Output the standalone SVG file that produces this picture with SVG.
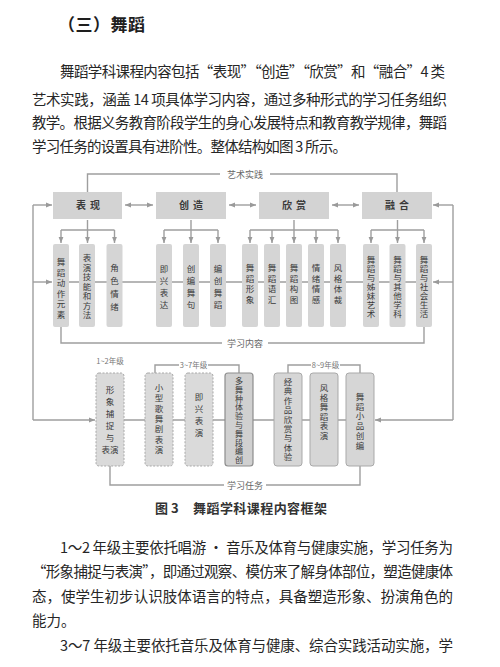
<svg xmlns="http://www.w3.org/2000/svg" width="500" height="667" viewBox="0 0 500 667">
<defs>
<marker id="ah" viewBox="0 0 10 10" refX="10" refY="5" markerWidth="6" markerHeight="6" markerUnits="userSpaceOnUse" orient="auto-start-reverse"><path d="M0,1 L10,5 L0,9 z" fill="#9a9a9a"/></marker>
<style>
.body{font-family:"Noto Sans CJK SC","Noto Sans CJK JP",sans-serif;font-size:14.5px;fill:#262626}
.title{font-family:"Noto Sans CJK SC",sans-serif;font-size:17px;font-weight:bold;fill:#1e1e1e}
.cap{font-family:"Noto Sans CJK SC",sans-serif;font-size:13px;font-weight:bold;fill:#333}
.ln{fill:none;stroke:#9e9e9e;stroke-width:1.4}
.ar{fill:none;stroke:#9e9e9e;stroke-width:1.4;marker-end:url(#ah)}
.da{fill:none;stroke:#9e9e9e;stroke-width:1.4;marker-start:url(#ah);marker-end:url(#ah)}
.big{fill:#d3d3d3}
.sm{fill:#d5d5d5}
.dsh{fill:#dadada;stroke:#a8a8a8;stroke-width:1;stroke-dasharray:2 1.5}
.sol{fill:#d6d6d6;stroke:#a9a9a9;stroke-width:1}
.sol2{fill:#d0d0d0;stroke:#8e8e8e;stroke-width:1.2}
.bl{font-family:"Noto Sans CJK SC",sans-serif;font-size:10px;font-weight:bold;fill:#3a3a3a;text-anchor:middle}
.vt{font-family:"Noto Sans CJK SC",sans-serif;font-size:8.5px;fill:#3a3a3a;text-anchor:middle}
.vs{font-family:"Noto Sans CJK SC",sans-serif;font-size:8px;fill:#3a3a3a;text-anchor:middle}
.lb{font-family:"Noto Sans CJK SC",sans-serif;font-size:9px;fill:#666;text-anchor:middle}
.gl{font-family:"Noto Sans CJK SC",sans-serif;font-size:7.5px;fill:#777;text-anchor:middle}
</style>
</defs>
<rect width="500" height="667" fill="#ffffff"/>

<text class="title" x="58" y="31" textLength="87" lengthAdjust="spacing">（三）舞蹈</text>
<text class="body" x="60" y="77" textLength="385" lengthAdjust="spacing">舞蹈学科课程内容包括“表现”“创造”“欣赏”和“融合”4 类</text>
<text class="body" x="32" y="105" textLength="415" lengthAdjust="spacing">艺术实践，涵盖 14 项具体学习内容，通过多种形式的学习任务组织</text>
<text class="body" x="32" y="128" textLength="415" lengthAdjust="spacing">教学。根据义务教育阶段学生的身心发展特点和教育教学规律，舞蹈</text>
<text class="body" x="32" y="152" textLength="315" lengthAdjust="spacing">学习任务的设置具有进阶性。整体结构如图 3 所示。</text>

<g id="connectors">
<path class="ln" d="M87.5,192 V174 H220 M270,174 H397 V192"/>
<path class="da" d="M125,205 H153"/>
<path class="da" d="M229,205 H256"/>
<path class="da" d="M332,205 H359"/>
<path class="ln" d="M453,205 V420"/>
<path class="ar" d="M453,205 H433"/>
<path class="ln" d="M33,420 V205"/>
<path class="ar" d="M33,205 H52"/>
<path class="ln" d="M87.5,220 V230 M61,230 H114.5"/>
<path class="ar" d="M61,230 V243"/><path class="ar" d="M87.5,230 V243"/><path class="ar" d="M114.5,230 V243"/>
<path class="ln" d="M191,220 V230 M164,230 H218"/>
<path class="ar" d="M164,230 V243"/><path class="ar" d="M191,230 V243"/><path class="ar" d="M218,230 V243"/>
<path class="ln" d="M294,220 V230 M250,230 H338"/>
<path class="ar" d="M250,230 V243"/><path class="ar" d="M272,230 V243"/><path class="ar" d="M294,230 V243"/><path class="ar" d="M316,230 V243"/><path class="ar" d="M338,230 V243"/>
<path class="ln" d="M397.5,220 V230 M371,230 H424"/>
<path class="ar" d="M371,230 V243"/><path class="ar" d="M397.5,230 V243"/><path class="ar" d="M424,230 V243"/>
<path class="ln" d="M69,282 H416"/>
<path class="ar" d="M33,282 H52"/>
<path class="ar" d="M453,282 H433"/>
<path class="ln" d="M61,327 V343 H222 M268,343 H424 V327"/>
<path class="ln" d="M124,420 H346"/>
<path class="ar" d="M33,420 H95"/>
<path class="ar" d="M453,420 H375"/>
<path class="ln" d="M155,373 V365 H179 M208,365 H239 V373"/>
<path class="ln" d="M288,373 V365 H311 M340,365 H360 V373"/>
<path class="ln" d="M110,466 V485 H224 M266,485 H360 V466"/>
</g>
<text class="lb" x="245" y="178">艺术实践</text>
<text class="lb" x="245" y="346.5">学习内容</text>
<text class="lb" x="245" y="488.5">学习任务</text>
<text class="gl" x="110" y="364">1~2年级</text>
<text class="gl" x="193.5" y="367.5">3~7年级</text>
<text class="gl" x="325.5" y="367.5">8~9年级</text>

<g id="n-biaoxian"><rect class="big" x="53" y="192" width="69" height="27"/><text class="bl" x="81 95" y="209">表现</text></g>
<g id="n-chuangzao"><rect class="big" x="156" y="192" width="70" height="27"/><text class="bl" x="184 198" y="209">创造</text></g>
<g id="n-xinshang"><rect class="big" x="259" y="192" width="70" height="27"/><text class="bl" x="287 301" y="209">欣赏</text></g>
<g id="n-ronghe"><rect class="big" x="362" y="192" width="70" height="27"/><text class="bl" x="390 404" y="209">融合</text></g>

<g id="n-c1"><rect class="sm" x="53" y="244" width="16" height="83" rx="2"/><text class="vt" x="61 61 61 61 61 61" y="265 275.6 286.2 296.8 307.4 318">舞蹈动作元素</text></g>
<g id="n-c2"><rect class="sm" x="79" y="244" width="16" height="83" rx="2"/><text class="vt" x="87 87 87 87 87 87 87" y="261 270.5 280 289.5 299 308.5 318">表演技能和方法</text></g>
<g id="n-c3"><rect class="sm" x="106.5" y="244" width="16" height="83" rx="2"/><text class="vt" x="114.5 114.5 114.5 114.5" y="271 284 297 310">角色情绪</text></g>
<g id="n-c4"><rect class="sm" x="156" y="244" width="16" height="83" rx="2"/><text class="vt" x="164 164 164 164" y="272 284 296 308">即兴表达</text></g>
<g id="n-c5"><rect class="sm" x="183" y="244" width="16" height="83" rx="2"/><text class="vt" x="191 191 191 191" y="272 284 296 308">创编舞句</text></g>
<g id="n-c6"><rect class="sm" x="210" y="244" width="16" height="83" rx="2"/><text class="vt" x="218 218 218 218" y="272 284 296 308">编创舞蹈</text></g>
<g id="n-c7"><rect class="sm" x="242" y="244" width="16" height="83" rx="2"/><text class="vt" x="250 250 250 250" y="271 281.5 292 302.5">舞蹈形象</text></g>
<g id="n-c8"><rect class="sm" x="264" y="244" width="16" height="83" rx="2"/><text class="vt" x="272 272 272 272" y="271 281.5 292 302.5">舞蹈语汇</text></g>
<g id="n-c9"><rect class="sm" x="286" y="244" width="16" height="83" rx="2"/><text class="vt" x="294 294 294 294" y="271 281.5 292 302.5">舞蹈构图</text></g>
<g id="n-c10"><rect class="sm" x="308" y="244" width="16" height="83" rx="2"/><text class="vt" x="316 316 316 316" y="271 281.5 292 302.5">情绪情感</text></g>
<g id="n-c11"><rect class="sm" x="330" y="244" width="16" height="83" rx="2"/><text class="vt" x="338 338 338 338" y="271 281.5 292 302.5">风格体裁</text></g>
<g id="n-c12"><rect class="sm" x="363" y="244" width="16" height="83" rx="2"/><text class="vt" x="371 371 371 371 371 371 371" y="263 272 281 290 299 308 317">舞蹈与姊妹艺术</text></g>
<g id="n-c13"><rect class="sm" x="389.5" y="244" width="16" height="83" rx="2"/><text class="vt" x="397.5 397.5 397.5 397.5 397.5 397.5 397.5" y="263 272 281 290 299 308 317">舞蹈与其他学科</text></g>
<g id="n-c14"><rect class="sm" x="416" y="244" width="16" height="83" rx="2"/><text class="vt" x="424 424 424 424 424 424 424" y="263 272 281 290 299 308 317">舞蹈与社会生活</text></g>

<g id="n-t1"><rect class="dsh" x="96" y="373" width="28" height="93" rx="3"/><text class="vt" x="110 110 110 110 110 110" y="393 405 417 429 441 453">形象捕捉与表演</text></g>
<g id="n-t2"><rect class="dsh" x="145" y="373" width="28" height="93" rx="3"/><text class="vt" x="159 159 159 159 159 159 159" y="391 401.3 411.6 422 432.3 442.6 453">小型歌舞剧表演</text></g>
<g id="n-t3"><rect class="dsh" x="185" y="373" width="28" height="93" rx="3"/><text class="vt" x="199 199 199 199" y="400 412 424 436">即兴表演</text></g>
<g id="n-t4"><rect class="sol2" x="225" y="373" width="28" height="93" rx="3"/><text class="vs" x="239 239 239 239 239 239 239 239 239 239" y="384 392.8 401.6 410.4 419.2 428 436.8 445.6 454.4 463.2">多舞种体验与舞段编创</text></g>
<g id="n-t5"><rect class="sol" x="274" y="373" width="28" height="93" rx="3"/><text class="vt" x="288 288 288 288 288 288 288 288 288" y="385 394.4 403.8 413.2 422.6 432 441.4 450.8 460.2">经典作品欣赏与体验</text></g>
<g id="n-t6"><rect class="sol" x="310" y="373" width="28" height="93" rx="3"/><text class="vt" x="324 324 324 324 324 324" y="391 400.5 410 419.5 429 438.5">风格舞蹈表演</text></g>
<g id="n-t7"><rect class="sol" x="346" y="373" width="28" height="93" rx="3"/><text class="vt" x="360 360 360 360 360 360" y="400 409.7 419.4 429.1 438.8 448.5">舞蹈小品创编</text></g>

<text class="cap" x="155" y="513">图 3</text>
<text class="cap" x="193" y="513" textLength="134" lengthAdjust="spacing">舞蹈学科课程内容框架</text>

<text class="body" x="60" y="553" textLength="393" lengthAdjust="spacing">1～2 年级主要依托唱游 · 音乐及体育与健康实施，学习任务为</text>
<text class="body" x="32" y="577" textLength="421" lengthAdjust="spacing">“形象捕捉与表演”，即通过观察、模仿来了解身体部位，塑造健康体</text>
<text class="body" x="32" y="602" textLength="421" lengthAdjust="spacing">态，使学生初步认识肢体语言的特点，具备塑造形象、扮演角色的</text>
<text class="body" x="32" y="626">能力。</text>
<text class="body" x="60" y="651" textLength="393" lengthAdjust="spacing">3～7 年级主要依托音乐及体育与健康、综合实践活动实施，学</text>
</svg>
